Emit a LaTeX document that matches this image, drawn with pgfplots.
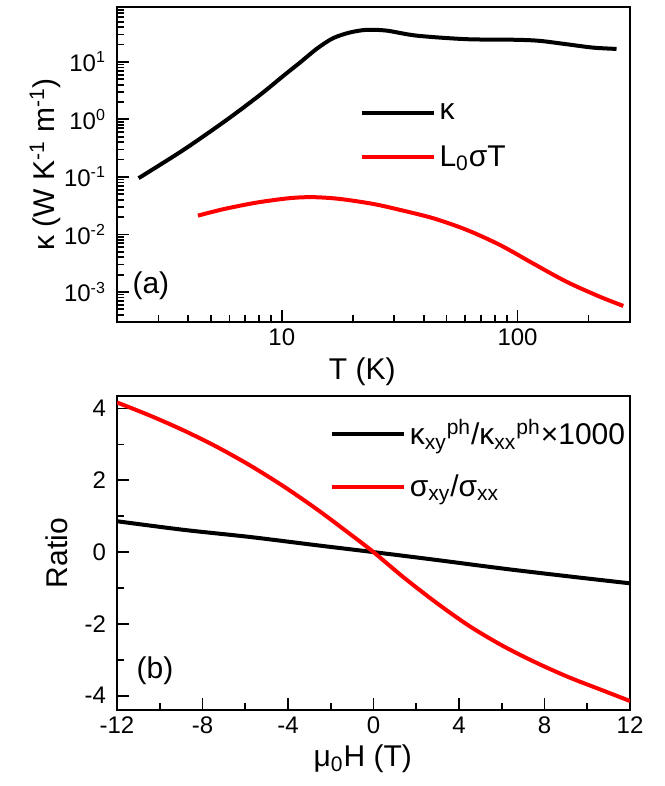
\documentclass[border=0pt]{standalone}
\usepackage{fontspec}
\setmainfont{Liberation Sans}
\usepackage{pgfplots}
\pgfplotsset{compat=1.18}
\begin{document}
\begin{tikzpicture}
\path[use as bounding box] (0,0) rectangle (332pt,393pt);
\pgfplotsset{
  common/.style={
    scale only axis, width=256.5pt,
    axis line style={line width=1pt},
    every tick/.style={black, line width=0.9pt},
    major tick length=6pt, minor tick length=3.5pt,
    xtick pos=left, ytick pos=left, tick align=inside,
    ticklabel style={font=\fontsize{12}{14}\selectfont},
    yticklabel style={xshift=-2pt},
    /pgf/number format/assume math mode=true,
    label style={font=\fontsize{15}{18}\selectfont},
    legend style={draw=none, fill=none, inner sep=0pt, font=\fontsize{15}{18}\selectfont, cells={anchor=west}},
    legend image code/.code={\draw[##1, line width=2pt] (0pt,0pt) -- (36pt,0pt);},
  }
}
% ---------- panel (a)
\begin{axis}[common,
  at={(58.5pt,232pt)}, anchor=south west, height=157.5pt,
  xmode=log, ymode=log,
  xmin=2, xmax=300, ymin=3e-4, ymax=90,
  xtick={10,100}, xticklabels={10,100},
  minor xtick={2,3,4,5,6,7,8,9,20,30,40,50,60,70,80,90,200,300},
  ytick={1e-3,1e-2,1e-1,1,10},
  yticklabels={10\textsuperscript{-3},10\textsuperscript{-2},10\textsuperscript{-1},10\textsuperscript{0},10\textsuperscript{1}},
  minor ytick={4e-4,5e-4,6e-4,7e-4,8e-4,9e-4,2e-3,3e-3,4e-3,5e-3,6e-3,7e-3,8e-3,9e-3,2e-2,3e-2,4e-2,5e-2,6e-2,7e-2,8e-2,9e-2,0.2,0.3,0.4,0.5,0.6,0.7,0.8,0.9,2,3,4,5,6,7,8,9,20,30,40,50,60,70,80},
  xlabel={T (K)}, ylabel={κ (W K\textsuperscript{-1} m\textsuperscript{-1})},
  xlabel style={at={(axis description cs:0.478,-0.158)}, anchor=center},
  ylabel style={at={(axis description cs:-0.14,0.5)}, anchor=center},
  legend style={at={(rel axis cs:0.472,0.589)}, anchor=west, row sep=7.5pt},
]
\addplot[black, line width=2pt, smooth] coordinates {
(2.47,0.095) (3.83,0.295) (5.84,0.98) (8.09,2.67) (10.2,5.8) (11.9,9.6) (14.1,17.0) (16.5,25.8) (19.5,32.5) (22.9,36.0) (27.8,35.0) (37.3,28.6) (60.8,24.8) (99.1,24.2) (124,23.2) (161,20.3) (209,17.7) (263,16.8)};
\addlegendentry{κ}
\addplot[red, line width=2pt, smooth] coordinates {
(4.41,0.0212) (5.64,0.0274) (7.81,0.0357) (10.8,0.0427) (13.6,0.0444) (17.6,0.0414) (24.4,0.0339) (31.7,0.0267) (43.9,0.0191) (60.8,0.0120) (84.2,0.00656) (116,0.00315) (161,0.00151) (223,8.28e-4) (281,5.71e-4)};
\addlegendentry{L\textsubscript{0}σT}
\node[font=\fontsize{15}{18}\selectfont] at (rel axis cs:0.066,0.114) {(a)};
\end{axis}
% ---------- panel (b)
\begin{axis}[common,
  at={(58.5pt,38pt)}, anchor=south west, height=157pt,
  xmin=-12, xmax=12, ymin=-4.4, ymax=4.35,
  xtick={-12,-8,-4,0,4,8,12}, xticklabels={-12,-8,-4,0,4,8,12},
  minor xtick={-10,-6,-2,2,6,10},
  ytick={-4,-2,0,2,4}, yticklabels={-4,-2,0,2,4},
  minor ytick={-3,-1,1,3},
  xlabel={μ\textsubscript{0}H (T)}, ylabel={Ratio},
  xlabel style={at={(axis description cs:0.479,-0.156)}, anchor=center},
  ylabel style={at={(axis description cs:-0.117,0.5)}, anchor=center},
  legend style={at={(rel axis cs:0.414,0.798)}, anchor=west, row sep=9.5pt},
]
\addplot[black, line width=2pt, smooth] coordinates {
(-12,0.86) (-8.88,0.62) (-5.76,0.42) (-2.64,0.19) (0,0.0) (2.96,-0.22) (6.07,-0.46) (9.19,-0.68) (12,-0.87)};
\addlegendentry{κ\textsubscript{xy}\textsuperscript{ph}/κ\textsubscript{xx}\textsuperscript{ph}×1000}
\addplot[red, line width=2pt, smooth] coordinates {
(-12,4.17) (-10.44,3.80) (-8.88,3.39) (-7.32,2.93) (-5.76,2.41) (-4.20,1.83) (-2.64,1.19) (-1.09,0.50) (0,0.0) (1.40,-0.70) (2.96,-1.42) (4.51,-2.07) (6.07,-2.62) (7.64,-3.09) (9.19,-3.50) (10.75,-3.86) (12,-4.15)};
\addlegendentry{σ\textsubscript{xy}/σ\textsubscript{xx}}
\node[font=\fontsize{15}{18}\selectfont] at (rel axis cs:0.074,0.124) {(b)};
\end{axis}
\end{tikzpicture}
\end{document}
